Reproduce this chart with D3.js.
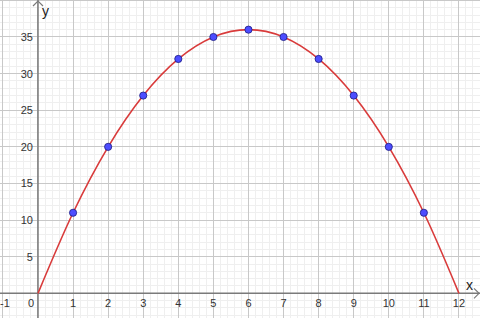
<!DOCTYPE html>
<html>
<head>
<meta charset="utf-8">
<script src="https://cdn.jsdelivr.net/npm/d3@7"></script>
<style>
  html, body { margin: 0; padding: 0; background: #fff; }
  svg { display: block; font-family: "Liberation Sans", Arial, sans-serif; }
</style>
</head>
<body>
<svg id="chart" width="480" height="318"></svg>
<script>
// curve samples (x, y) and the marked points
const curveX = [0, 1, 2, 3, 4, 5, 6, 7, 8, 9, 10, 11, 12]
const curveY = [0, 11, 20, 27, 32, 35, 36, 35, 32, 27, 20, 11, 0]
const pointX = [1, 2, 3, 4, 5, 6, 7, 8, 9, 10, 11]
const pointY = [11, 20, 27, 32, 35, 36, 35, 32, 27, 20, 11]
const xTicks = [-1, 0, 1, 2, 3, 4, 5, 6, 7, 8, 9, 10, 11, 12]
const yTicks = [5, 10, 15, 20, 25, 30, 35]

const width = 480
const height = 318
const svg = d3.select('#chart')

const x = d3.scaleLinear().domain([-1.083, 12.6]).range([0, width])
const y = d3.scaleLinear().domain([-3.37, 40.05]).range([height, 0])

const grid = svg.append('g').attr('class', 'grid')

// minor grid
grid.append('g').selectAll('line')
  .data(d3.range(-5, 64).map(i => i / 5))
  .join('line')
  .attr('x1', d => x(d)).attr('x2', d => x(d))
  .attr('y1', 0).attr('y2', height)
  .attr('stroke', '#efefef').attr('stroke-width', 1)
  .attr('shape-rendering', 'crispEdges')

grid.append('g').selectAll('line')
  .data(d3.range(-3, 41))
  .join('line')
  .attr('y1', d => y(d)).attr('y2', d => y(d))
  .attr('x1', 0).attr('x2', width)
  .attr('stroke', '#efefef').attr('stroke-width', 1)
  .attr('shape-rendering', 'crispEdges')

// major grid
grid.append('g').selectAll('line')
  .data(xTicks)
  .join('line')
  .attr('x1', d => x(d)).attr('x2', d => x(d))
  .attr('y1', 0).attr('y2', height)
  .attr('stroke', '#c8c8c8').attr('stroke-width', 1)
  .attr('shape-rendering', 'crispEdges')

grid.append('g').selectAll('line')
  .data(yTicks.concat([40]))
  .join('line')
  .attr('y1', d => y(d)).attr('y2', d => y(d))
  .attr('x1', 0).attr('x2', width)
  .attr('stroke', '#c8c8c8').attr('stroke-width', 1)
  .attr('shape-rendering', 'crispEdges')

// axes
const axisColor = '#7a7a7a'
svg.append('line')
  .attr('x1', 0).attr('x2', width)
  .attr('y1', y(0)).attr('y2', y(0))
  .attr('stroke', axisColor).attr('stroke-width', 1.5)
svg.append('line')
  .attr('x1', x(0)).attr('x2', x(0))
  .attr('y1', 0).attr('y2', height)
  .attr('stroke', axisColor).attr('stroke-width', 1.5)

// arrow heads
svg.append('path')
  .attr('d', `M${width - 6},${y(0) - 5}L${width - 1},${y(0)}L${width - 6},${y(0) + 5}`)
  .attr('fill', 'none').attr('stroke', axisColor).attr('stroke-width', 1.2)
svg.append('path')
  .attr('d', `M${x(0) - 5},6L${x(0)},1L${x(0) + 5},6`)
  .attr('fill', 'none').attr('stroke', axisColor).attr('stroke-width', 1.2)

// tick labels
svg.append('g').selectAll('text')
  .data(xTicks)
  .join('text')
  .attr('x', d => d === 0 ? x(d) - 7 : d === -1 ? 0 : x(d))
  .attr('y', y(0) + 14)
  .attr('text-anchor', d => d === -1 ? 'start' : 'middle')
  .attr('font-size', 11)
  .attr('fill', '#333')
  .text(d => d)

svg.append('g').selectAll('text')
  .data(yTicks)
  .join('text')
  .attr('x', x(0) - 5)
  .attr('y', d => y(d) + 4)
  .attr('text-anchor', 'end')
  .attr('font-size', 11)
  .attr('fill', '#333')
  .text(d => d)

// axis names
svg.append('text')
  .attr('x', 466).attr('y', y(0) - 3)
  .attr('font-size', 14).attr('fill', '#222')
  .text('x')
svg.append('text')
  .attr('x', x(0) + 4).attr('y', 16)
  .attr('font-size', 14).attr('fill', '#222')
  .text('y')

// curve
const curveData = curveX.map((v, i) => [v, curveY[i]])
const line = d3.line()
  .x(d => x(d[0]))
  .y(d => y(d[1]))
  .curve(d3.curveCatmullRom.alpha(0))

svg.append('path')
  .datum(curveData)
  .attr('fill', 'none')
  .attr('stroke', '#d93b3b')
  .attr('stroke-width', 1.6)
  .attr('d', line)

// points
svg.append('g').selectAll('circle')
  .data(pointX.map((v, i) => [v, pointY[i]]))
  .join('circle')
  .attr('cx', d => x(d[0]))
  .attr('cy', d => y(d[1]))
  .attr('r', 3.6)
  .attr('fill', '#4d4dff')
  .attr('stroke', '#1a1a80')
  .attr('stroke-width', 0.8)
</script>
</body>
</html>
